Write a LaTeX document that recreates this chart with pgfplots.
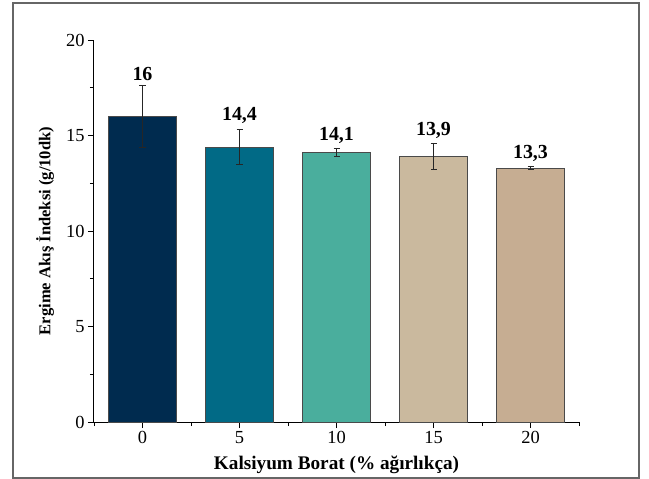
\documentclass[border=0pt]{standalone}
\usepackage{pgfplots}
\pgfplotsset{compat=1.18}
\usepackage{fontspec}
\setmainfont{Liberation Serif}
\definecolor{c0}{HTML}{002B4F}
\definecolor{c1}{HTML}{016A86}
\definecolor{c2}{HTML}{4AAE9D}
\definecolor{c3}{HTML}{CAB99E}
\definecolor{c4}{HTML}{C6AD92}
\definecolor{edge}{HTML}{4A4A4A}
\begin{document}
\begin{tikzpicture}
\path[use as bounding box] (-94bp,-57bp) rectangle (555bp,422bp);
\draw[draw=black!60, line width=1.2bp] (-81bp,-56bp) rectangle (545bp,419bp);
\begin{axis}[
  at={(0,0)}, anchor=south west,
  scale only axis, width=485bp, height=382bp,
  xmin=-2.5, xmax=22.5, ymin=0, ymax=20,
  axis x line*=bottom, axis y line*=left,
  axis line style={black, line width=1bp, -},
  xtick={0,5,10,15,20}, minor xtick={-2.5,2.5,7.5,12.5,17.5,22.5},
  ytick={0,5,10,15,20}, minor ytick={2.5,7.5,12.5,17.5},
  tick align=outside,
  major tick length=6bp, minor tick length=4bp,
  every tick/.style={black, line width=0.9bp},
  /pgf/number format/assume math mode=true,
  tick label style={font=\fontsize{18.5}{18.5}\selectfont},
  xlabel={Kalsiyum Borat (\% ağırlıkça)},
  ylabel={Ergime Akış İndeksi (g/10dk)},
  xlabel style={font=\bfseries\fontsize{19.3}{19.3}\selectfont, at={(axis description cs:0.5,0)}, anchor=center, yshift=-43bp},
  ylabel style={font=\bfseries\fontsize{16.6}{16.6}\selectfont, at={(axis description cs:0,0.5)}, anchor=center, yshift=49bp},
  clip=false,
]
\pgfplotsset{mybar/.style={ybar, bar width=3.5, bar shift=0pt, draw=edge, line width=0.9bp,
  error bars/.cd, y dir=both, y explicit,
  error bar style={black!85, line width=0.9bp},
  error mark options={rotate=90, mark size=3bp, black!85, line width=0.9bp}}}
\addplot[fill=c0, mybar] coordinates {(0,16) +- (0,1.6)};
\addplot[fill=c1, mybar] coordinates {(5,14.4) +- (0,0.93)};
\addplot[fill=c2, mybar] coordinates {(10,14.1) +- (0,0.22)};
\addplot[fill=c3, mybar] coordinates {(15,13.9) +- (0,0.67)};
\addplot[fill=c4, mybar] coordinates {(20,13.3) +- (0,0.07)};
\addplot[draw=none, mark=none, nodes near coords, point meta=explicit symbolic,
  every node near coord/.style={anchor=south, inner sep=2bp, yshift=3bp, font=\bfseries\fontsize{20}{20}\selectfont}]
  coordinates {(0,17.6) [16] (5,15.33) [{14,4}] (10,14.32) [{14,1}] (15,14.57) [{13,9}] (20,13.37) [{13,3}]};
\end{axis}
\end{tikzpicture}
\end{document}
